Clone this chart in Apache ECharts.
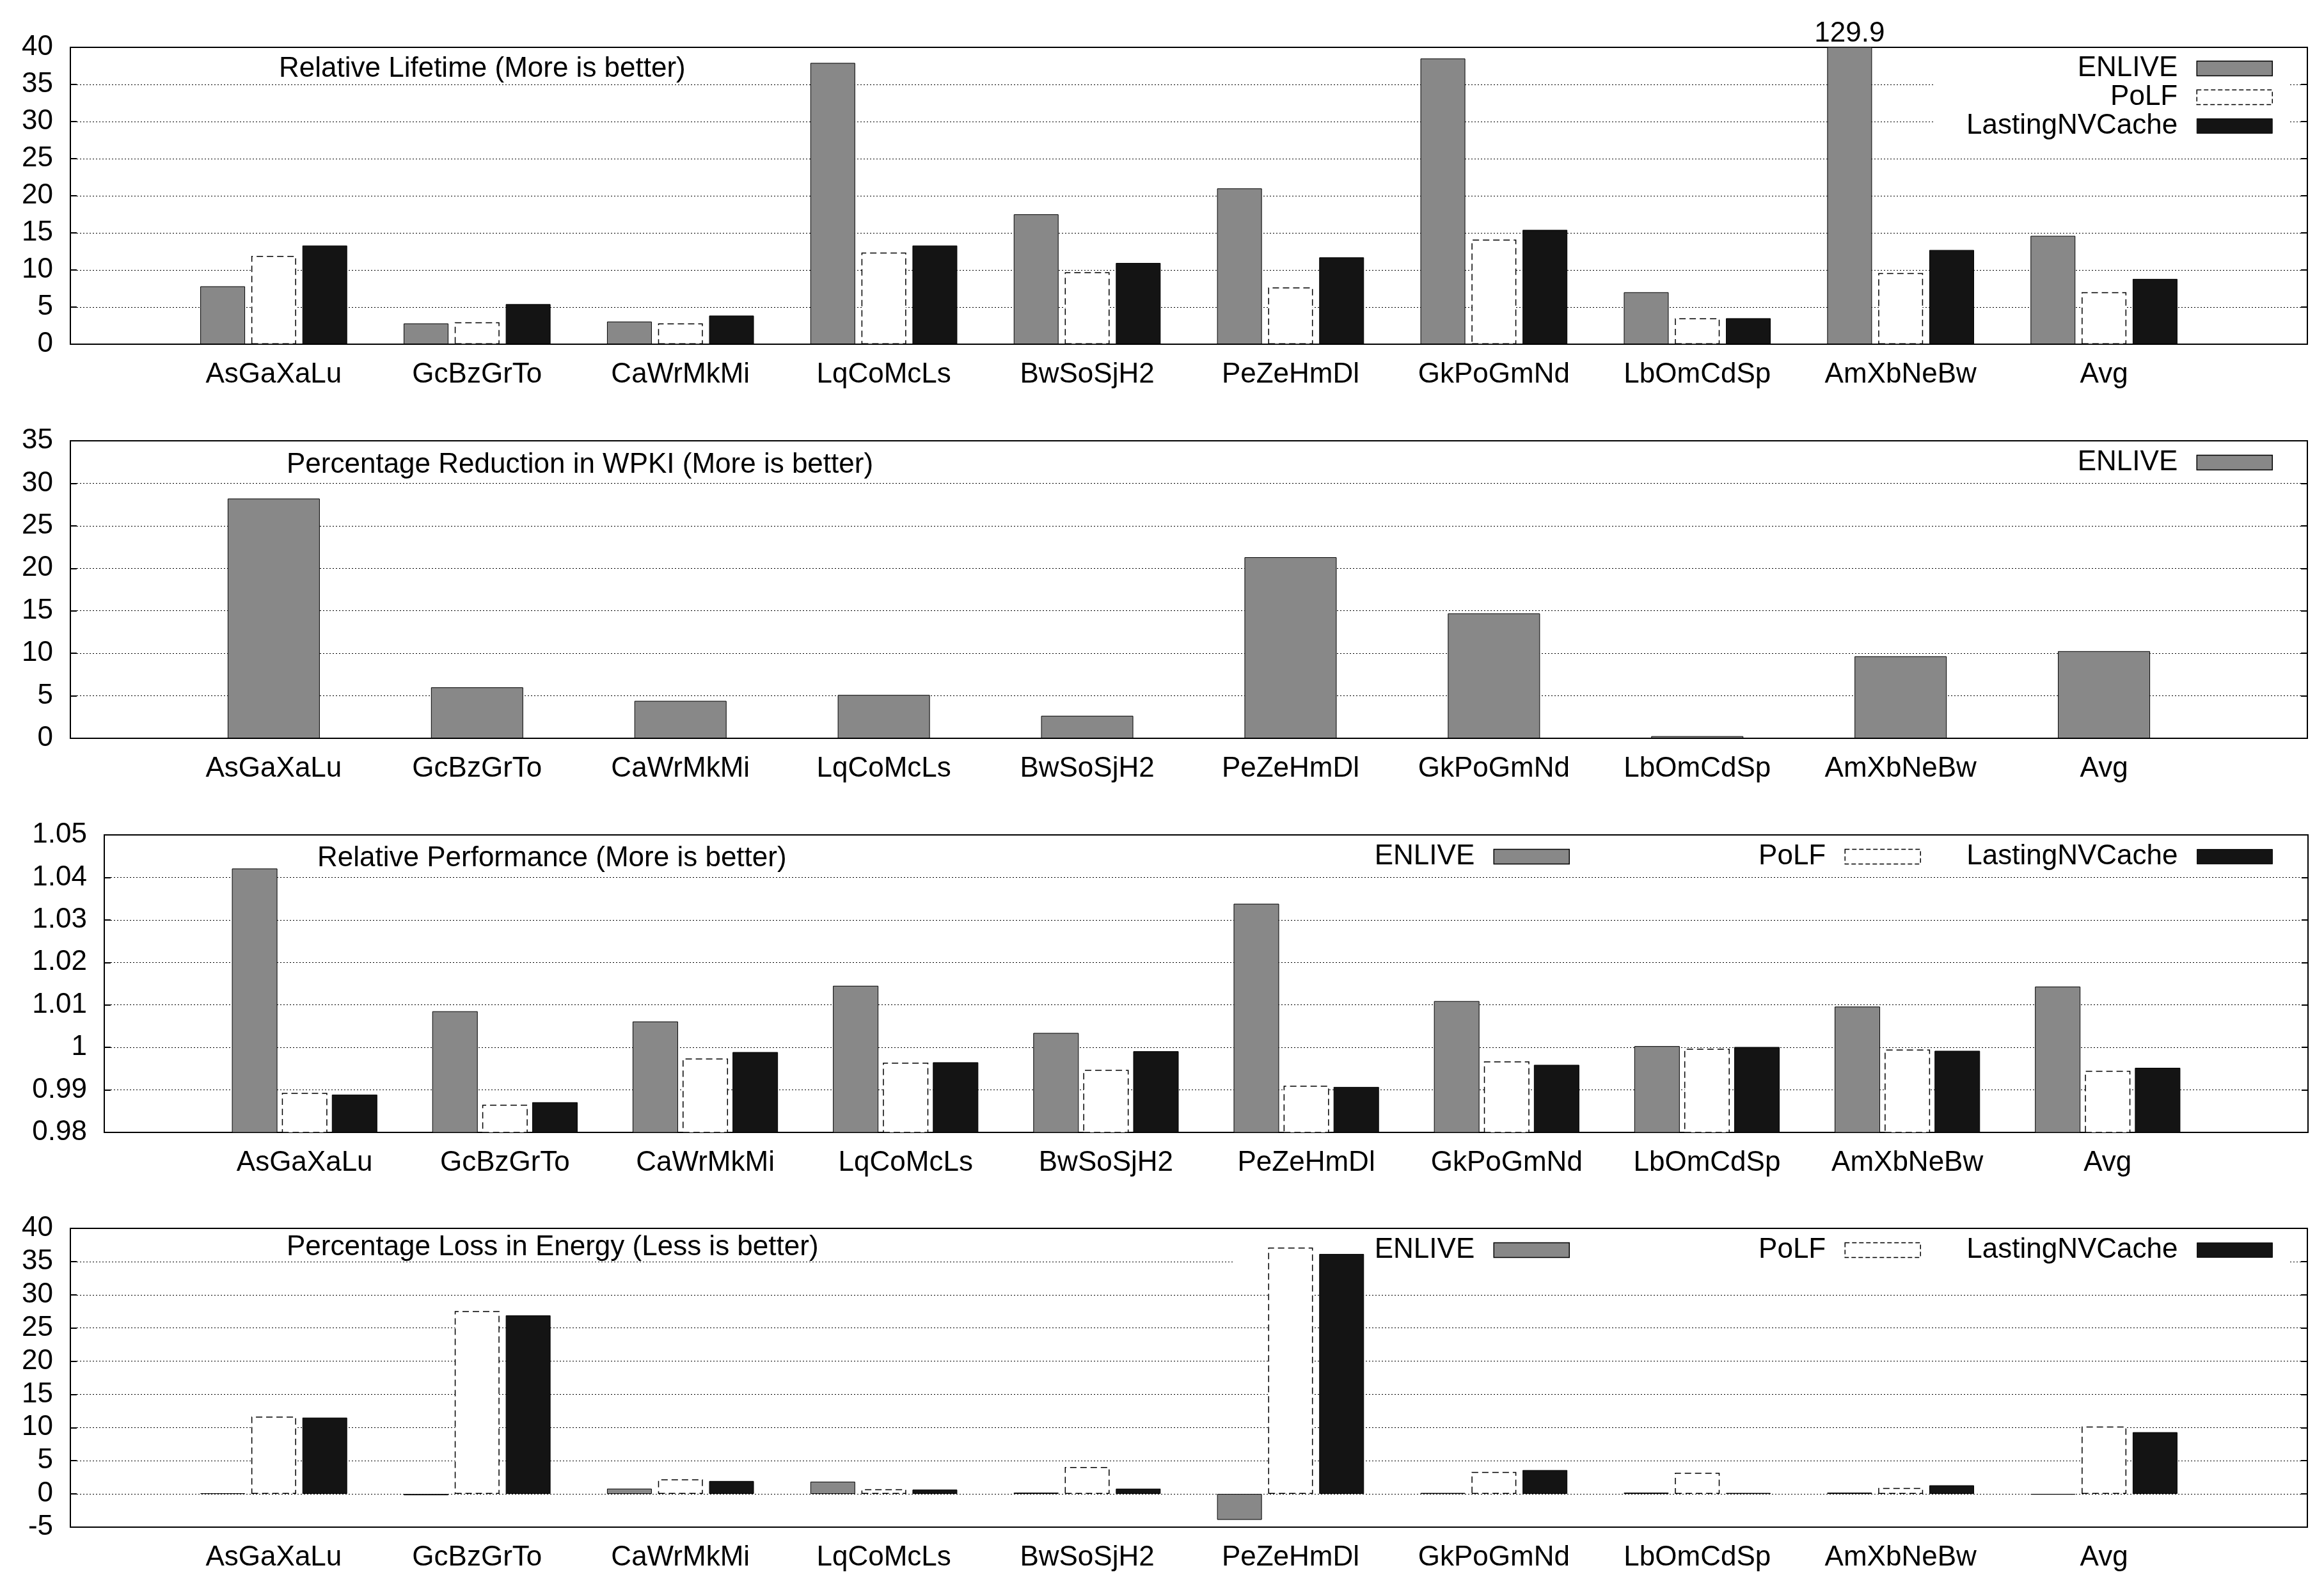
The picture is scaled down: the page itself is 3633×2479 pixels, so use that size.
<!DOCTYPE html>
<html><head><meta charset="utf-8">
<script src="https://cdn.jsdelivr.net/npm/echarts@6/dist/echarts.min.js"></script>
<style>html,body{margin:0;padding:0;background:#fff}#c{width:3633px;height:2479px}</style>
</head><body><div id="c"></div>
<script>
// ---------- data ----------
const categories = ['AsGaXaLu','GcBzGrTo','CaWrMkMi','LqCoMcLs','BwSoSjH2','PeZeHmDl','GkPoGmNd','LbOmCdSp','AmXbNeBw','Avg'];
const seriesNames = ['ENLIVE','PoLF','LastingNVCache'];
const panelTitles = [
  'Relative Lifetime (More is better)',
  'Percentage Reduction in WPKI (More is better)',
  'Relative Performance (More is better)',
  'Percentage Loss in Energy (Less is better)'
];
// Relative Lifetime
const lifetimeENLIVE = [7.8, 2.8, 3.05, 37.9, 17.5, 21.0, 38.5, 7.0, 129.9, 14.6];
const lifetimePoLF   = [11.9, 2.95, 2.8, 12.35, 9.7, 7.65, 14.1, 3.5, 9.6, 7.0];
const lifetimeLNVC   = [13.3, 5.4, 3.85, 13.3, 10.95, 11.7, 15.4, 3.5, 12.7, 8.8];
// Percentage Reduction in WPKI
const wpkiENLIVE = [28.2, 6.0, 4.4, 5.1, 2.65, 21.3, 14.7, 0.25, 9.65, 10.25];
// Relative Performance
const perfENLIVE = [1.0421, 1.0085, 1.0061, 1.0145, 1.0034, 1.0338, 1.0109, 1.0003, 1.0096, 1.0143];
const perfPoLF   = [0.9893, 0.9865, 0.9974, 0.9964, 0.9947, 0.9910, 0.9967, 0.9997, 0.9995, 0.9945];
const perfLNVC   = [0.9889, 0.9871, 0.9989, 0.9965, 0.9991, 0.9907, 0.9959, 1.0001, 0.9992, 0.9952];
// Percentage Loss in Energy
const energyENLIVE = [0.1, -0.2, 0.8, 1.85, 0.2, -3.9, 0.15, 0.2, 0.2, -0.1];
const energyPoLF   = [11.65, 27.55, 2.2, 0.7, 4.05, 37.1, 3.3, 3.2, 0.9, 10.15];
const energyLNVC   = [11.5, 26.9, 1.95, 0.65, 0.8, 36.15, 3.6, 0.15, 1.3, 9.3];
// y-axis ranges [min, max, interval]
const yRanges = [[0, 40, 5], [0, 35, 5], [0.98, 1.05, 0.01], [-5, 40, 5]];

// ---------- styling ----------
const FONT = 'Liberation Sans, Arial, Helvetica, sans-serif';
const FS = 44;
const styles = {
  'ENLIVE': {color:'#888888', borderColor:'#000', borderWidth:1},
  'PoLF': {color:'#ffffff', borderColor:'#000', borderWidth:1.5, borderType:[10,6]},
  'LastingNVCache': {color:'#141414', borderColor:'#000', borderWidth:1}
};
const legendStyles = {
  'ENLIVE': {color:'#888888', borderColor:'#000', borderWidth:1.5},
  'PoLF': {color:'#ffffff', borderColor:'#000', borderWidth:1.5, borderType:[7,4]},
  'LastingNVCache': {color:'#141414', borderColor:'#141414', borderWidth:1}
};
const grids = [
  {left:110, right:26, top:74, height:464},
  {left:110, right:26, top:689, height:465},
  {left:163, right:25, top:1305, height:465},
  {left:110, right:26, top:1920, height:467}
].map(g => Object.assign(g, {show:true, borderColor:'#000', borderWidth:2, backgroundColor:'transparent'}));

const axisCats = [''].concat(categories, ['']);
const pad = arr => ['-'].concat(arr, ['-']);

const xAxes = grids.map((g, i) => ({
  type:'category', gridIndex:i, data:axisCats, boundaryGap:false,
  axisLine:{show:false, onZero:false}, axisTick:{show:false}, splitLine:{show:false},
  axisLabel:{interval:0, fontSize:FS, color:'#000', fontFamily:FONT, margin:26}
}));
const yAxes = [];
yRanges.forEach((r, i) => {
  yAxes.push({
    type:'value', gridIndex:i, min:r[0], max:r[1], interval:r[2], position:'left',
    axisLine:{show:false},
    axisTick:{show:true, inside:true, length:10, lineStyle:{color:'#000', width:2}},
    axisLabel:{fontSize:FS, color:'#000', fontFamily:FONT, margin:27},
    splitLine:{show:true, lineStyle:{color:'#000', width:1.2, type:[2,3]}}
  });
  yAxes.push({
    type:'value', gridIndex:i, min:r[0], max:r[1], interval:r[2], position:'right',
    axisLine:{show:false},
    axisTick:{show:true, inside:true, length:10, lineStyle:{color:'#000', width:2}},
    axisLabel:{show:false}, splitLine:{show:false}
  });
});

function bar(name, data, gi, width, gap, extra) {
  return Object.assign({
    type:'bar', name, xAxisIndex:gi, yAxisIndex:2*gi, data:pad(data),
    barWidth:width, barGap:gap, itemStyle:styles[name], z:2,
    emphasis:{disabled:true}, animation:false
  }, extra || {});
}
const lifetimeMax = yRanges[0][1];
const series = [
  bar('ENLIVE', lifetimeENLIVE, 0, 70, '14%', {label:{show:true, position:'top', distance:-1, fontSize:FS, color:'#000', fontFamily:FONT,
      formatter: p => (p.value > lifetimeMax ? String(p.value) : '')}}),
  bar('PoLF', lifetimePoLF, 0, 70, '14%'),
  bar('LastingNVCache', lifetimeLNVC, 0, 70, '14%'),
  bar('ENLIVE', wpkiENLIVE, 1, 144, '14%'),
  bar('ENLIVE', perfENLIVE, 2, 71, '10%'),
  bar('PoLF', perfPoLF, 2, 71, '10%'),
  bar('LastingNVCache', perfLNVC, 2, 71, '10%'),
  bar('ENLIVE', energyENLIVE, 3, 70, '14%'),
  bar('PoLF', energyPoLF, 3, 70, '14%'),
  bar('LastingNVCache', energyLNVC, 3, 70, '14%')
];

const legendBase = {
  selectedMode:false, icon:'rect', itemWidth:118, itemHeight:23, align:'right', z:1, padding:0,
  textStyle:{fontSize:FS, color:'#000', fontFamily:FONT, padding:[0,25,0,0]}
};
function lg(names, top, right, extra) {
  return Object.assign({}, legendBase, {
    data: names.map(n => ({name:n, itemStyle:legendStyles[n]})), top, right
  }, extra || {});
}
const legends = [
  lg(seriesNames, 76, 54, {orient:'vertical', itemGap:1, backgroundColor:'#fff', padding:[9,26,6,52]}),
  lg(['ENLIVE'], 701, 80),
  lg(['ENLIVE'], 1317, 1179),
  lg(['PoLF'], 1317, 630),
  lg(['LastingNVCache'], 1317, 80),
  lg(['ENLIVE'], 1922, 54, {backgroundColor:'#fff', padding:[10,1125,2,221]}),
  lg(['PoLF'], 1932, 630),
  lg(['LastingNVCache'], 1932, 80)
];

const titlePos = [[436, 86], [448, 705], [496, 1320], [448, 1928]];
const titles = panelTitles.map((t, i) => ({
  text:t, left:titlePos[i][0], top:titlePos[i][1], padding:0,
  textStyle:{fontSize:FS, fontWeight:'normal', color:'#000', fontFamily:FONT}
}));

const chart = echarts.init(document.getElementById('c'), null, {renderer:'canvas', width:3633, height:2479});
chart.setOption({
  animation:false, backgroundColor:'#fff',
  title:titles, legend:legends, grid:grids, xAxis:xAxes, yAxis:yAxes, series
});
</script></body></html>
